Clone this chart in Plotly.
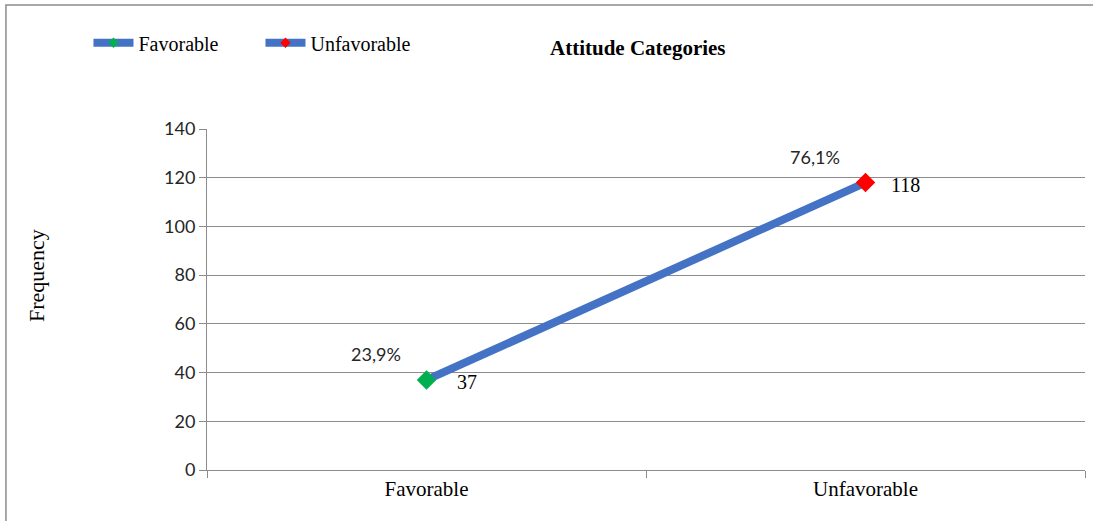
import plotly.graph_objects as go

categories = ["Favorable", "Unfavorable"]
frequency = [37, 118]
percent_labels = ["23,9%", "76,1%"]
value_labels = ["37", "118"]
marker_colors = ["#00B050", "#FF0000"]
y_ticks = [0, 20, 40, 60, 80, 100, 120, 140]

LINE_COLOR = "#4472C4"
SERIF = "Liberation Serif"
SANS = "Lato"

fig = go.Figure()

fig.add_trace(go.Scatter(
    x=categories, y=frequency, mode="lines+markers",
    line=dict(color=LINE_COLOR, width=8),
    marker=dict(symbol="diamond", size=15, color=marker_colors,
                line=dict(width=0)),
    showlegend=False, hoverinfo="skip",
))

# legend entries
for name, col in zip(categories, marker_colors):
    fig.add_trace(go.Scatter(
        x=[None], y=[None], mode="lines+markers", name=name,
        line=dict(color=LINE_COLOR, width=8),
        marker=dict(symbol="diamond", size=8, color=col),
    ))

annotations = []
for cat, val, pl, vl in zip(categories, frequency, percent_labels, value_labels):
    annotations.append(dict(x=cat, y=val, xref="x", yref="y", text=pl,
                            showarrow=False, xshift=-51, yshift=26,
                            font=dict(family=SANS, size=18, color="#262626")))
    annotations.append(dict(x=cat, y=val, xref="x", yref="y", text=vl,
                            showarrow=False, xshift=40, yshift=-2,
                            font=dict(family=SERIF, size=20, color="#000000")))

annotations.append(dict(x=0.491, y=1.2375, xref="paper", yref="paper",
                        xanchor="center", yanchor="middle",
                        text="<b>Attitude Categories</b>", showarrow=False,
                        font=dict(family=SERIF, size=21, color="#000000")))
annotations.append(dict(x=-0.1936, y=0.569, xref="paper", yref="paper",
                        xanchor="center", yanchor="middle",
                        text="Frequency", textangle=-90, showarrow=False,
                        font=dict(family=SERIF, size=22, color="#000000")))

fig.update_layout(
    width=1093, height=521,
    margin=dict(l=207, r=8, t=129, b=51),
    paper_bgcolor="white", plot_bgcolor="white",
    annotations=annotations,
    legend=dict(orientation="h", x=-0.135, y=1.31, xanchor="left", yanchor="top",
                font=dict(family=SERIF, size=20, color="#000000"),
                itemwidth=40, entrywidth=117, entrywidthmode="pixels",
                bgcolor="rgba(0,0,0,0)"),
    shapes=[dict(type="rect", xref="paper", yref="paper",
                 x0=-0.229, x1=1.2, y0=-0.5, y1=1.3636,
                 line=dict(color="#8c8c8c", width=1.5))],
)

fig.update_xaxes(
    type="category", range=[-0.5, 1.5],
    showline=True, linecolor="#8c8c8c", linewidth=1,
    ticks="outside", ticklen=7, tickcolor="#8c8c8c", tickson="boundaries",
    showgrid=False, zeroline=False,
    tickfont=dict(family=SERIF, size=21, color="#000000"),
)
fig.update_yaxes(
    range=[0, 140], tickvals=y_ticks,
    showline=True, linecolor="#8c8c8c", linewidth=1,
    ticks="outside", ticklen=7, tickcolor="#8c8c8c",
    showgrid=True, gridcolor="#8c8c8c", gridwidth=1, zeroline=False,
    tickfont=dict(family=SANS, size=18, color="#262626"),
)

fig.write_html("out.html")
